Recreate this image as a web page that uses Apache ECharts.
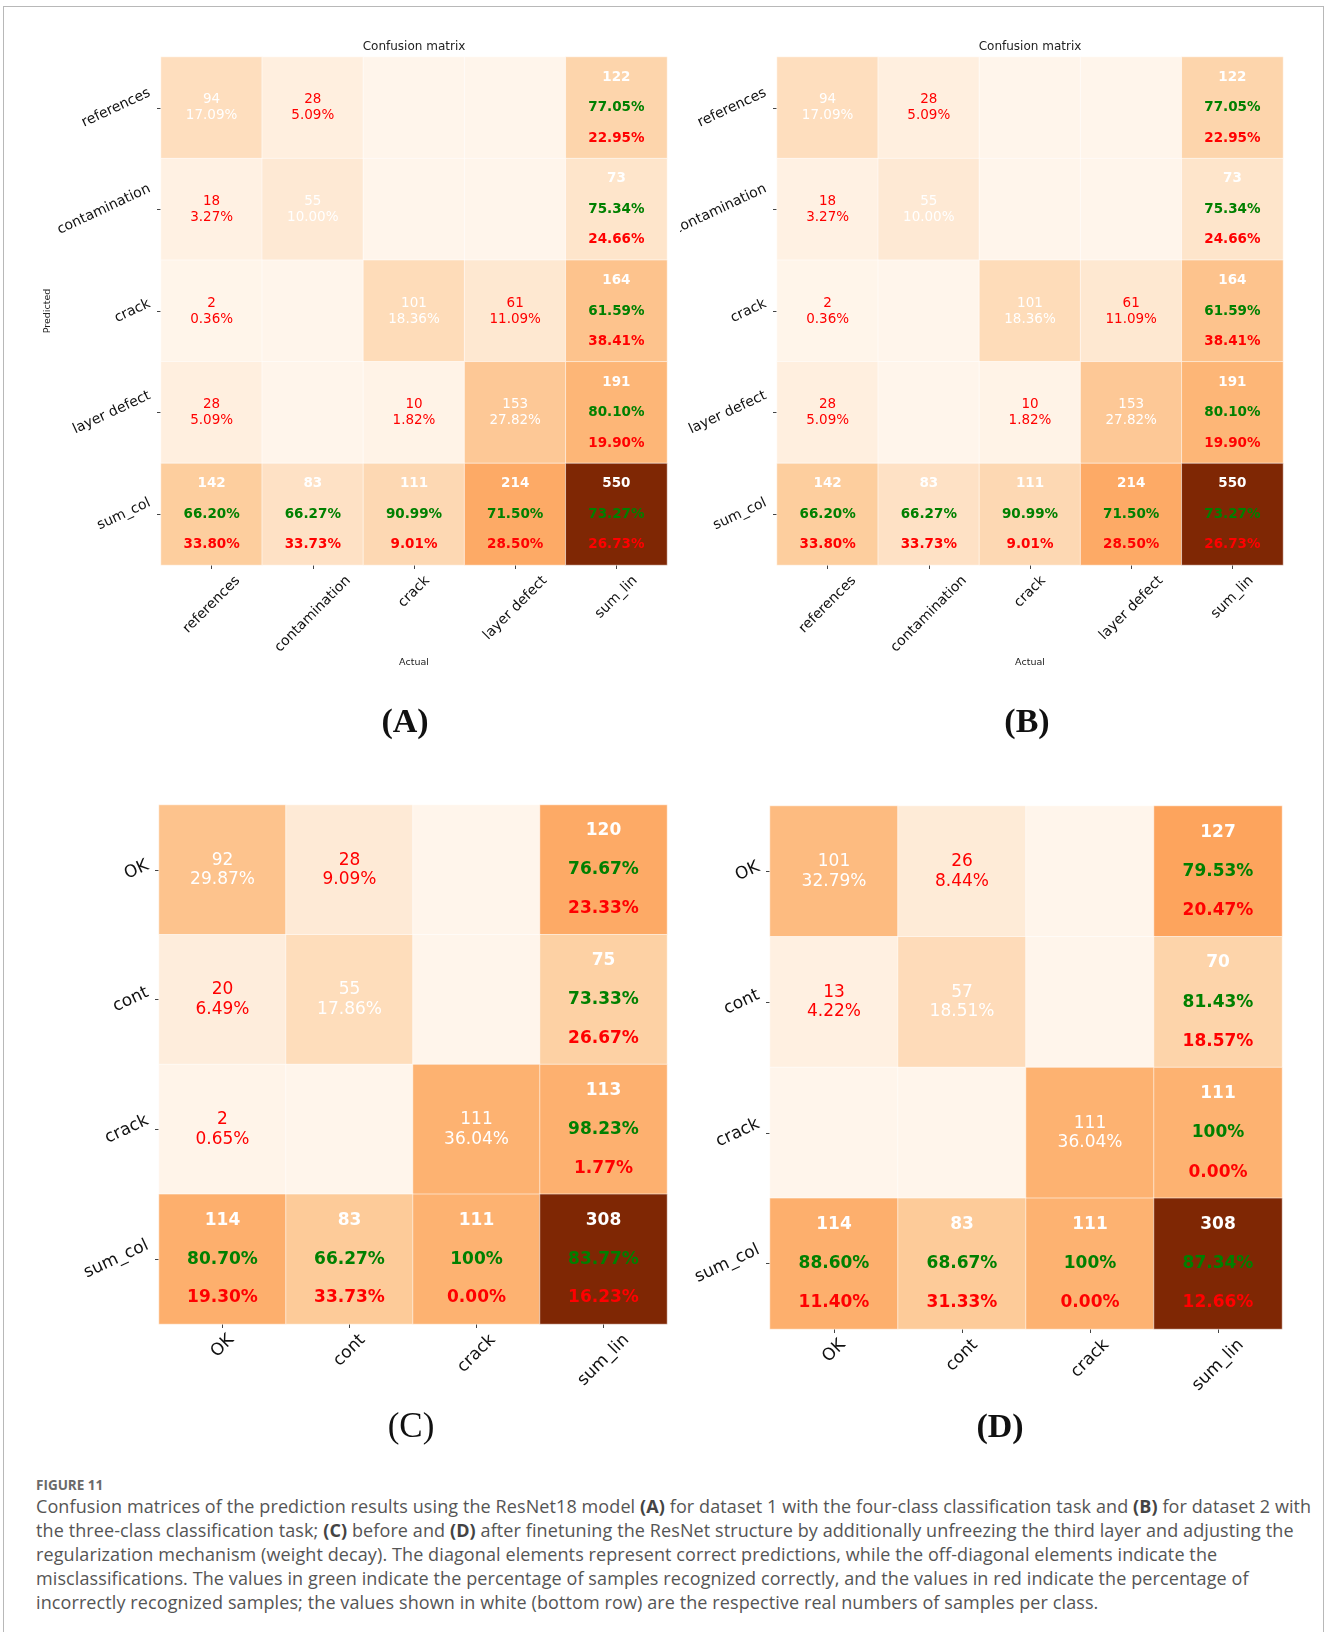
<!DOCTYPE html>
<html>
<head>
<meta charset="utf-8">
<title>Confusion matrices – ResNet18</title>
<script src="https://cdn.jsdelivr.net/npm/echarts@6/dist/echarts.min.js"></script>
<style>
  html, body { margin: 0; padding: 0; background: #fff; width: 1328px; height: 1632px; overflow: hidden; }
  #frame { position: absolute; left: 3px; top: 6px; width: 1321px; height: 1700px; border: 1px solid #b8b8b8; box-sizing: border-box; }
  .panel { position: absolute; }
  #figno { position: absolute; left: 36px; top: 1476px; font-family: "Open Sans", Lato, sans-serif; font-weight: bold; font-size: 13.5px; color: #6a6a6a; }
  #caption { position: absolute; left: 36px; top: 1494px; font-family: "Open Sans", Lato, sans-serif; font-size: 18px; letter-spacing: 0.1px; line-height: 24px; color: #555; white-space: nowrap; }
  #caption b { color: #444; }
</style>
</head>
<body>
<div id="frame"></div>
<div id="pA" class="panel" style="left:0;top:0;width:680px;height:760px"></div>
<div id="pB" class="panel" style="left:680px;top:0;width:648px;height:760px"></div>
<div id="pC" class="panel" style="left:0;top:760px;width:677px;height:700px"></div>
<div id="pD" class="panel" style="left:677px;top:760px;width:651px;height:700px"></div>
<div id="figno">FIGURE 11</div>
<div id="caption">Confusion matrices of the prediction results using the ResNet18 model <b>(A)</b> for dataset 1 with the four-class classification task and <b>(B)</b> for dataset 2 with<br>the three-class classification task; <b>(C)</b> before and <b>(D)</b> after finetuning the ResNet structure by additionally unfreezing the third layer and adjusting the<br>regularization mechanism (weight decay). The diagonal elements represent correct predictions, while the off-diagonal elements indicate the<br>misclassifications. The values in green indicate the percentage of samples recognized correctly, and the values in red indicate the percentage of<br>incorrectly recognized samples; the values shown in white (bottom row) are the respective real numbers of samples per class.</div>
<script>
// Matplotlib "Oranges" colour ramp
const ORANGES = ['#fff5eb', '#fee6ce', '#fdd0a2', '#fdae6b', '#fd8d3c', '#f16913', '#d94801', '#a63603', '#7f2704'];
const FONT = 'DejaVu Sans';

// ---- Four-class task (rows: predicted, columns: actual) ----
const classes4 = ['references', 'contamination', 'crack', 'layer defect'];
const counts4 = [
  [94, 28, 0, 0],
  [18, 55, 0, 0],
  [2, 0, 101, 61],
  [28, 0, 10, 153]
];
const rowTotals4 = [122, 73, 164, 191];
const rowCorrect4 = ['77.05%', '75.34%', '61.59%', '80.10%'];
const rowWrong4 = ['22.95%', '24.66%', '38.41%', '19.90%'];
const colTotals4 = [142, 83, 111, 214];
const colCorrect4 = ['66.20%', '66.27%', '90.99%', '71.50%'];
const colWrong4 = ['33.80%', '33.73%', '9.01%', '28.50%'];
const grandTotal4 = 550;
const overall4 = ['73.27%', '26.73%'];

// ---- Three-class task, before finetuning ----
const classes3 = ['OK', 'cont', 'crack'];
const countsBefore = [
  [92, 28, 0],
  [20, 55, 0],
  [2, 0, 111]
];
const rowTotalsBefore = [120, 75, 113];
const rowCorrectBefore = ['76.67%', '73.33%', '98.23%'];
const rowWrongBefore = ['23.33%', '26.67%', '1.77%'];
const colTotalsBefore = [114, 83, 111];
const colCorrectBefore = ['80.70%', '66.27%', '100%'];
const colWrongBefore = ['19.30%', '33.73%', '0.00%'];
const grandTotalBefore = 308;
const overallBefore = ['83.77%', '16.23%'];

// ---- Three-class task, after finetuning ----
const countsAfter = [
  [101, 26, 0],
  [13, 57, 0],
  [0, 0, 111]
];
const rowTotalsAfter = [127, 70, 111];
const rowCorrectAfter = ['79.53%', '81.43%', '100%'];
const rowWrongAfter = ['20.47%', '18.57%', '0.00%'];
const colTotalsAfter = [114, 83, 111];
const colCorrectAfter = ['88.60%', '68.67%', '100%'];
const colWrongAfter = ['11.40%', '31.33%', '0.00%'];
const grandTotalAfter = 308;
const overallAfter = ['87.34%', '12.66%'];

const measureCtx = document.createElement('canvas').getContext('2d');
function textWidth(t, size) {
  measureCtx.font = size + 'px "' + FONT + '"';
  return measureCtx.measureText(t).width;
}

function buildPanel(el, p) {
  const chart = echarts.init(el, null, { renderer: 'canvas' });
  const n = p.classes.length;
  const xNames = p.classes.concat(['sum_lin']);
  const yNames = p.classes.concat(['sum_col']);
  const cellH = p.grid.height / (n + 1);
  const sumLH = cellH * 0.3;

  const cells = [];
  const texts = [];
  for (let r = 0; r < n; r++) {
    for (let c = 0; c < n; c++) {
      const v = p.counts[r][c];
      cells.push([c, r, v]);
      if (v === 0) texts.push('');
      else {
        const pct = (v / p.total * 100).toFixed(2) + '%';
        const k = r === c ? 'w' : 'r';
        texts.push('{' + k + '|' + v + '}\n{' + k + '|' + pct + '}');
      }
    }
    cells.push([n, r, p.rowTotals[r]]);
    texts.push('{W|' + p.rowTotals[r] + '}\n{G|' + p.rowCorrect[r] + '}\n{R|' + p.rowWrong[r] + '}');
  }
  for (let c = 0; c < n; c++) {
    cells.push([c, n, p.colTotals[c]]);
    texts.push('{W|' + p.colTotals[c] + '}\n{G|' + p.colCorrect[c] + '}\n{R|' + p.colWrong[c] + '}');
  }
  cells.push([n, n, p.total]);
  texts.push('{W|' + p.total + '}\n{G|' + p.overall[0] + '}\n{R|' + p.overall[1] + '}');

  const base = { fontFamily: FONT, fontSize: p.cellFont };
  const axisTick = { show: true, alignWithLabel: true, length: 4, lineStyle: { color: '#444', width: 1 } };
  const nameStyle = { fontFamily: FONT, fontSize: 9.5, color: '#222' };

  chart.setOption({
    animation: false,
    grid: Object.assign({ containLabel: false, outerBoundsMode: 'none' }, p.grid),
    xAxis: {
      type: 'category', data: xNames, position: 'bottom',
      axisLine: { show: false }, splitLine: { show: false }, axisTick: axisTick,
      axisLabel: { show: false },
      name: p.names ? 'Actual' : '', nameLocation: 'middle', nameGap: 93, nameMoveOverlap: false,
      nameTextStyle: nameStyle
    },
    yAxis: {
      type: 'category', data: yNames, inverse: true,
      axisLine: { show: false }, splitLine: { show: false }, axisTick: axisTick,
      axisLabel: { show: false },
      name: p.names ? 'Predicted' : '', nameLocation: 'middle', nameGap: 108, nameMoveOverlap: false,
      nameTextStyle: nameStyle
    },
    visualMap: {
      type: 'continuous', show: false, min: 0, max: p.total, dimension: 2, seriesIndex: 0,
      inRange: { color: ORANGES }
    },
    series: [{
      type: 'heatmap',
      data: cells,
      itemStyle: { borderColor: 'rgba(255,255,255,0.55)', borderWidth: 1 },
      emphasis: { disabled: true },
      label: {
        show: true,
        formatter: prm => texts[prm.dataIndex],
        rich: {
          w: Object.assign({ color: '#ffffff', lineHeight: p.innerLH }, base),
          r: Object.assign({ color: '#ff0000', lineHeight: p.innerLH }, base),
          W: Object.assign({ color: '#ffffff', fontWeight: 'bold', lineHeight: sumLH }, base),
          G: Object.assign({ color: '#008000', fontWeight: 'bold', lineHeight: sumLH }, base),
          R: Object.assign({ color: '#ff0000', fontWeight: 'bold', lineHeight: sumLH }, base)
        }
      }
    }]
  });

  // Rotated tick labels, placed from the axis positions of each category
  const tickFont = p.tickSize + 'px "' + FONT + '"';
  const hh = p.tickSize * 0.8;
  const axisY = p.grid.top + p.grid.height;
  const axisX = p.grid.left;
  const yRot = 25 * Math.PI / 180;
  const graphics = [];
  xNames.forEach((name, i) => {
    const pt = chart.convertToPixel({ gridIndex: 0 }, [i, n]);
    const L = textWidth(name, p.tickSize);
    graphics.push({
      type: 'text', x: pt[0], y: axisY + p.xGap + 0.3536 * (L + hh), rotation: Math.PI / 4,
      style: { text: name, textAlign: 'center', textVerticalAlign: 'middle', font: tickFont, fill: '#111' }
    });
  });
  yNames.forEach((name, i) => {
    const pt = chart.convertToPixel({ gridIndex: 0 }, [0, i]);
    const L = textWidth(name, p.tickSize);
    const w = L * Math.cos(yRot) + hh * Math.sin(yRot);
    graphics.push({
      type: 'text', x: axisX - p.yGap - w / 2, y: pt[1], rotation: yRot,
      style: { text: name, textAlign: 'center', textVerticalAlign: 'middle', font: tickFont, fill: '#111' }
    });
  });
  if (p.title) {
    graphics.push({
      type: 'text', x: p.grid.left + p.grid.width / 2, y: 47,
      style: { text: 'Confusion matrix', textAlign: 'center', textVerticalAlign: 'middle',
        font: '12px "' + FONT + '"', fill: '#222' }
    });
  }
  graphics.push({
    type: 'text', x: p.label.x, y: p.label.y,
    style: { text: p.label.text, textAlign: 'center', textVerticalAlign: 'middle',
      font: (p.label.bold ? 'bold ' : '') + p.label.size + 'px "Liberation Serif"', fill: '#111' }
  });
  chart.setOption({ graphic: graphics });
  return chart;
}

const fourClass = {
  classes: classes4, counts: counts4,
  rowTotals: rowTotals4, rowCorrect: rowCorrect4, rowWrong: rowWrong4,
  colTotals: colTotals4, colCorrect: colCorrect4, colWrong: colWrong4,
  total: grandTotal4, overall: overall4,
  tickSize: 14, cellFont: 13.5, innerLH: 16,
  xGap: 9.5, yGap: 9, title: true, names: true
};

buildPanel(document.getElementById('pA'), Object.assign({}, fourClass, {
  grid: { left: 161, top: 57, width: 506, height: 508 },
  label: { text: '(A)', x: 405, y: 723, size: 34, bold: true }
}));
buildPanel(document.getElementById('pB'), Object.assign({}, fourClass, {
  grid: { left: 97, top: 57, width: 506, height: 508 },
  label: { text: '(B)', x: 347, y: 723, size: 34, bold: true }
}));
buildPanel(document.getElementById('pC'), {
  classes: classes3, counts: countsBefore,
  rowTotals: rowTotalsBefore, rowCorrect: rowCorrectBefore, rowWrong: rowWrongBefore,
  colTotals: colTotalsBefore, colCorrect: colCorrectBefore, colWrong: colWrongBefore,
  total: grandTotalBefore, overall: overallBefore,
  tickSize: 17, cellFont: 17, innerLH: 19.5, xGap: 8.5, yGap: 8.5, title: false, names: false,
  grid: { left: 159, top: 45, width: 508, height: 519 },
  label: { text: '(C)', x: 411, y: 668, size: 35, bold: false }
});
buildPanel(document.getElementById('pD'), {
  classes: classes3, counts: countsAfter,
  rowTotals: rowTotalsAfter, rowCorrect: rowCorrectAfter, rowWrong: rowWrongAfter,
  colTotals: colTotalsAfter, colCorrect: colCorrectAfter, colWrong: colWrongAfter,
  total: grandTotalAfter, overall: overallAfter,
  tickSize: 17, cellFont: 17, innerLH: 19.5, xGap: 8.5, yGap: 8.5, title: false, names: false,
  grid: { left: 93, top: 46, width: 512, height: 523 },
  label: { text: '(D)', x: 323, y: 668, size: 34, bold: true }
});
</script>
</body>
</html>
